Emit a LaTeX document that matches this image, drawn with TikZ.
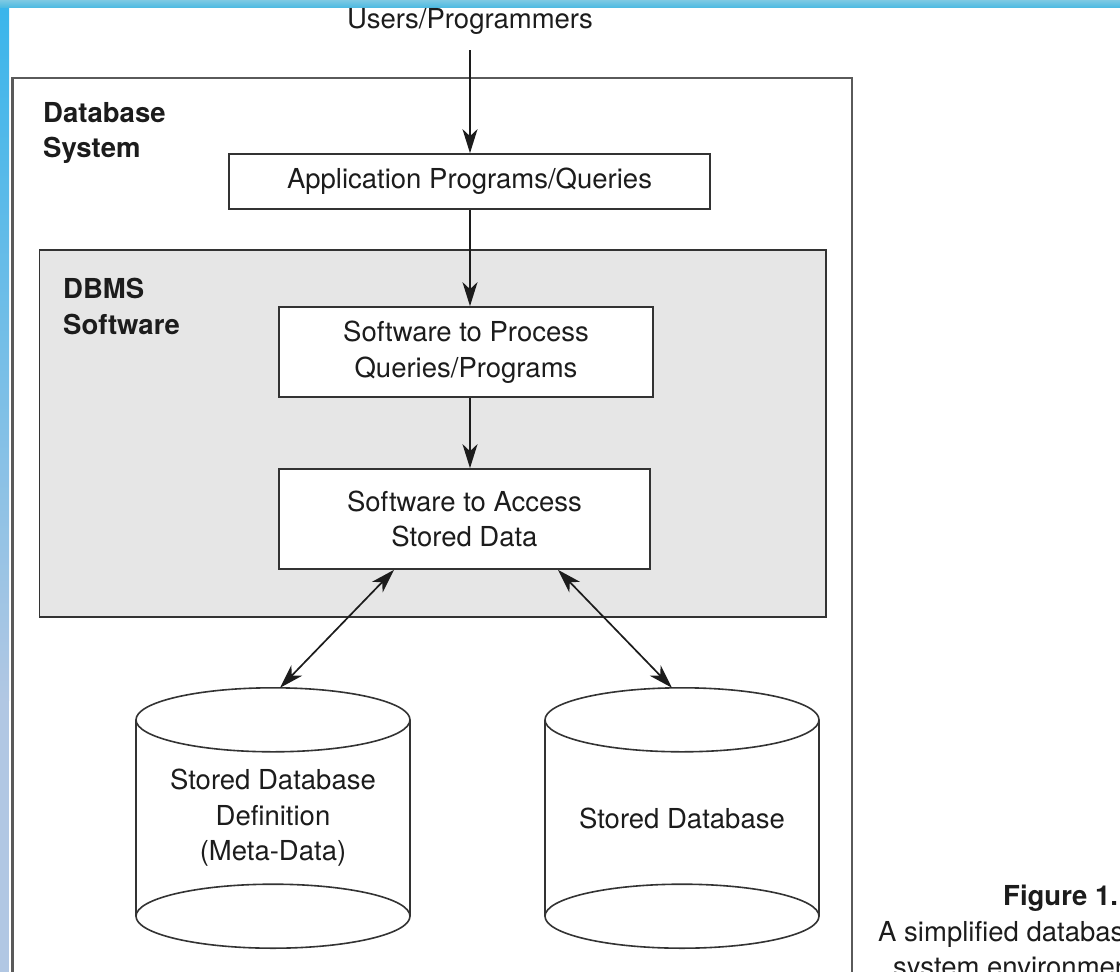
\documentclass[tikz,border=0pt]{standalone}
\usepackage{fontspec}
\setmainfont{TeX Gyre Heros}
\usetikzlibrary{arrows.meta,calc}

\definecolor{ink}{HTML}{1C1C1C}
\definecolor{edge}{HTML}{333333}
\definecolor{frame}{HTML}{5A5A5A}
\definecolor{panel}{HTML}{E6E6E6}
\definecolor{stripTop}{HTML}{39B5EB}
\definecolor{stripLow}{HTML}{B1C7E3}
\definecolor{barHi}{HTML}{7DC9E3}
\definecolor{barLo}{HTML}{50BBE2}

\newcommand\dbtext{\fontsize{27.5}{35.5}\selectfont}

\tikzset{
  procbox/.style={draw=edge, line width=1.7pt, fill=white, inner sep=0pt,
    align=center, font=\dbtext, text=ink},
  arr/.style={draw=ink, line width=1.8pt, -{Stealth[length=24pt,width=15pt,inset=7pt]}},
  darr/.style={draw=ink, line width=1.7pt,
    {Stealth[length=24pt,width=15pt,inset=7pt]}-{Stealth[length=24pt,width=15pt,inset=7pt]}},
  cylbody/.style={minimum width=274pt, minimum height=260pt, inner sep=0pt,
    align=center, font=\dbtext, text=ink},
  cylline/.style={draw=edge, line width=1.6pt},
  tag/.style={anchor=north west, inner sep=0pt, align=left,
    font=\dbtext\bfseries, text=ink},
  caption/.style={anchor=base west, inner sep=0pt, font=\dbtext, text=ink}
}

\begin{document}
\begin{tikzpicture}[x=1pt, y=-1pt]
\useasboundingbox (0,0) rectangle (1120,972);
\clip (0,0) rectangle (1120,972);

% page edge strips
\shade[top color=stripTop, bottom color=stripLow] (0,0) rectangle (9,700);
\fill[stripLow] (0,699) rectangle (9,972);
\shade[top color=barHi, bottom color=barLo] (0,0) rectangle (1120,7);

% database system frame and DBMS panel
\draw[frame, line width=2.4pt] (12.5,78) rectangle (852,1000);
\draw[edge, line width=1.7pt, fill=panel] (39.5,250) rectangle (826,617);

\node[tag] (dbsys) at (43,102) {Database\\System};
\node[tag] (dbms) at (63,278) {DBMS\\Software};

% processing chain
\node[anchor=center, inner sep=0pt, font=\dbtext, text=ink] (users) at (470,21) {Users/Programmers};
\coordinate (ustart) at (470,50);
\node[procbox, minimum width=481pt, minimum height=55pt] (app) at (469.5,181.5) {Application Programs/Queries};
\node[procbox, minimum width=374pt, minimum height=90pt] (proc) at (466,352) {Software to Process\\Queries/Programs};
\node[procbox, minimum width=371pt, minimum height=100pt] (access) at (464.5,519) {Software to Access\\Stored Data};

\draw[arr] (ustart) -- (ustart |- app.north);
\draw[arr] (ustart |- app.south) -- (ustart |- proc.north);
\draw[arr] (ustart |- proc.south) -- (ustart |- access.north);

% stored data
\node[cylbody] (meta) at (273,818) {Stored Database\\Definition\\(Meta-Data)};
\node[cylbody] (store) at (682,818) {Stored Database};

\foreach \c in {meta,store}{
  \draw[cylline] ([yshift=-32pt]\c.north west) -- ([yshift=32pt]\c.south west)
                 ([yshift=-32pt]\c.north east) -- ([yshift=32pt]\c.south east);
  \draw[cylline] ([yshift=-32pt]\c.north) ellipse [x radius=137pt, y radius=32pt];
  \draw[cylline] ([yshift=32pt]\c.south) ellipse [x radius=137pt, y radius=32pt];
}

\draw[darr] ([xshift=-70.5pt]access.south) -- ([xshift=7pt]meta.north);
\draw[darr] ([xshift=93.5pt]access.south) -- ([xshift=-10pt]store.north);

% figure caption, running into the right edge of the page
\node[caption, font=\dbtext\bfseries] (figno) at (1003,905) {Figure 1.};
\node[caption] (cap1) at (878,941) {A simplified databas};
\node[caption] (cap2) at (893,976) {system environmen};
\end{tikzpicture}
\end{document}
